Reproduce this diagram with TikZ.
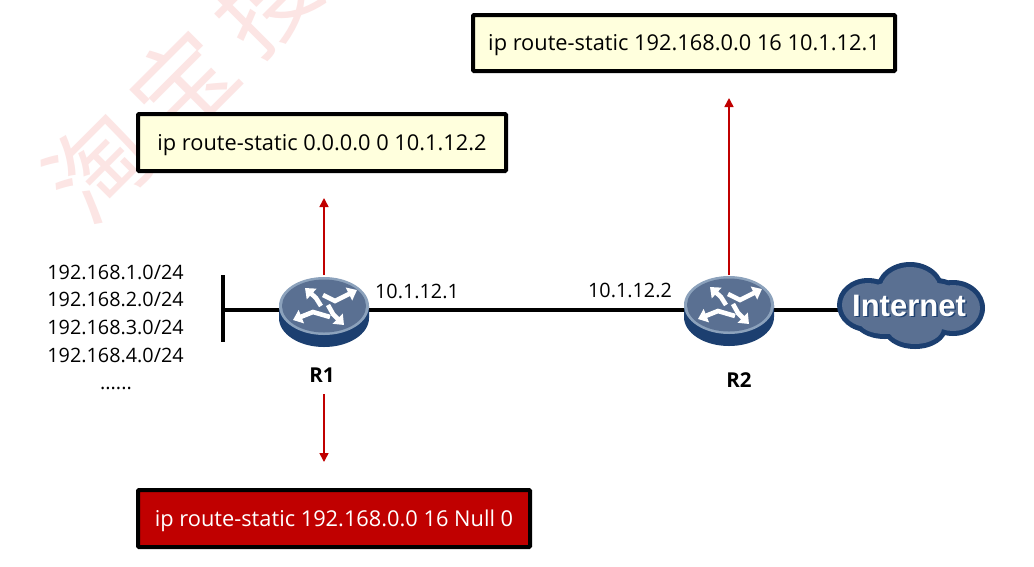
\documentclass[tikz,border=0pt]{standalone}
\usepackage{fontspec}
\setmainfont{Open Sans}
\newfontfamily\cjkwm{Noto Sans CJK SC}
\newfontfamily\cloudfont{Liberation Sans}
\usetikzlibrary{arrows.meta}
\definecolor{boxyellow}{HTML}{FFFFDD}
\definecolor{boxred}{HTML}{C00000}
\definecolor{arrowred}{HTML}{C00000}
\definecolor{navy}{HTML}{1C3F70}
\definecolor{slateblue}{HTML}{5A7092}
\definecolor{ringblue}{HTML}{8CA2BC}
\definecolor{wmpink}{HTML}{FCE5E4}
\tikzset{
  x=1pt,y=-1pt,
  notebox/.style={draw=black,line width=4pt,fill=boxyellow,rounded corners=1pt,inner sep=0pt,anchor=center,font=\fontsize{21.8}{24}\selectfont,text=black,text height=16.5pt,text depth=1.5pt},
  redbox/.style={notebox,fill=boxred,text=white},
  netlabel/.style={font=\fontsize{19.8}{22}\selectfont,text=black,inner sep=0pt},
  routerlabel/.style={font=\fontsize{20.5}{22}\selectfont\bfseries,text=black,inner sep=0pt},
  link/.style={line width=4pt,black},
  flow/.style={draw=arrowred,line width=1.6pt,-{Triangle[length=9pt,width=9pt]}},
  watermark/.style={text=wmpink,font=\fontsize{100}{102}\cjkwm,rotate=45,inner sep=0pt},
  swirl/.style={draw=white,line width=4.6pt,line join=miter,-{Triangle[length=9pt,width=14pt]}},
}
\newcommand{\routershape}[2]{%
  \begin{scope}[shift={(#1,#2)}]
    \fill[navy] (-45,0) -- (-45,12) arc[start angle=180,end angle=0,x radius=45,y radius=29] -- (45,0) -- cycle;
    \fill[ringblue] (0,0) ellipse[x radius=45,y radius=29];
    \fill[slateblue] (0,0) ellipse[x radius=42,y radius=26.5];
    \draw[swirl] (-1,-11) -- (11,-5) -- (33,-16);
    \draw[swirl] (-3,0) -- (-8,-8) -- (-19,-18);
    \draw[swirl] (6,11) -- (-11,6) -- (-31,14);
    \draw[swirl] (4,-1) -- (9,8) -- (20,19);
  \end{scope}}
\newcommand{\cloudlobes}[2]{% colour, inset
  \foreach \cx/\cy/\rx/\ry in {868/305/31/27,910/290/34/28,953/308/32/28,885/322/30/17,915/328/32/21,935/300/30/22,910/305/60/30}{
    \fill[#1] (\cx,\cy) ellipse[x radius=\rx-#2,y radius=\ry-#2];
  }}
\begin{document}
\begin{tikzpicture}
  \useasboundingbox (0,0) rectangle (1034,566);
  \clip (0,0) rectangle (1034,566);
  \fill[white] (0,0) rectangle (1034,566);
  % watermark
  \node[watermark] (wm1) at (98,166) {淘};
  \node[watermark] (wm2) at (182,83) {宝};
  \node[watermark] (wm3) at (265,0) {搜};
  % anchors
  \coordinate (bar) at (222.5,310);
  \coordinate (bartop) at (222.5,275);
  \coordinate (barbot) at (222.5,342);
  \coordinate (r1link) at (324,310);
  \coordinate (r2link) at (729,310);
  \coordinate (inet) at (860,310);
  \coordinate (r1top) at (324,275);
  \coordinate (r1up) at (324,198);
  \coordinate (r1dn0) at (324,394);
  \coordinate (r1dn) at (324,462);
  \coordinate (r2top) at (729,275);
  \coordinate (r2up) at (729,98);
  % links
  \draw[link] (bartop) -- (barbot);
  \draw[link] (bar) -- (r1link);
  \draw[link] (r1link) -- (r2link);
  \draw[link] (r2link) -- (inet);
  % flows
  \draw[flow] (r1top) -- (r1up);
  \draw[flow] (r1dn0) -- (r1dn);
  \draw[flow] (r2top) -- (r2up);
  % routers
  \routershape{324}{306}
  \routershape{729}{305}
  % cloud
  \cloudlobes{navy}{0}
  \cloudlobes{slateblue}{5}
  \node[text=navy,font=\fontsize{31}{34}\cloudfont\bfseries,inner sep=0pt] (inetshadow) at (910.5,307) {Internet};
  \node[text=white,font=\fontsize{31}{34}\cloudfont\bfseries,inner sep=0pt] (inettext) at (909,305.5) {Internet};
  % boxes
  \node[notebox,minimum width=368pt,minimum height=57pt] (box1) at (322,142.5) {ip route-static 0.0.0.0 0 10.1.12.2};
  \node[notebox,minimum width=422pt,minimum height=56pt] (box2) at (684,43) {ip route-static 192.168.0.0 16 10.1.12.1};
  \node[redbox,minimum width=392pt,minimum height=57pt] (box3) at (334,518.5) {ip route-static 192.168.0.0 16 Null 0};
  % labels
  \node[netlabel] (n1) at (115.5,272) {192.168.1.0/24};
  \node[netlabel] (n2) at (115.5,299) {192.168.2.0/24};
  \node[netlabel] (n3) at (115.5,327) {192.168.3.0/24};
  \node[netlabel] (n4) at (115.5,355) {192.168.4.0/24};
  \node[netlabel] (n5) at (116,388) {......};
  \node[netlabel] (ip1) at (417,291) {10.1.12.1};
  \node[netlabel] (ip2) at (630,290) {10.1.12.2};
  \node[routerlabel] (l1) at (322,375) {R1};
  \node[routerlabel] (l2) at (739,380) {R2};
\end{tikzpicture}
\end{document}
